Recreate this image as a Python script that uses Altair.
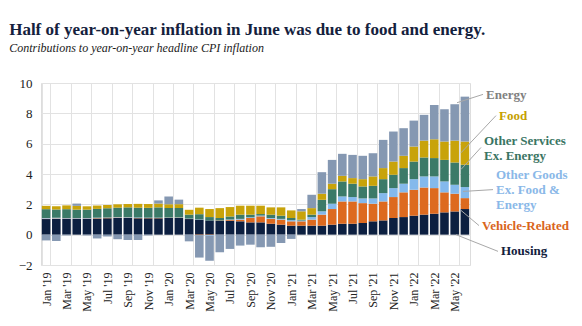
import altair as alt
import pandas as pd

# ---------------- data ----------------
months = [f"{m} '{y}" for y in ("19", "20", "21", "22")
          for m in ("Jan", "Feb", "Mar", "Apr", "May", "Jun",
                    "Jul", "Aug", "Sep", "Oct", "Nov", "Dec")][:42]

housing = [1.03, 1.04, 1.05, 1.05, 1.05, 1.06, 1.08, 1.10, 1.10, 1.08, 1.08, 1.08,
           1.10, 1.10, 1.03, 0.99, 0.94, 0.92, 0.92, 0.88, 0.81, 0.81, 0.72, 0.66,
           0.59, 0.59, 0.59, 0.59, 0.66, 0.72, 0.72, 0.77, 0.88, 0.94, 1.10, 1.16,
           1.25, 1.32, 1.38, 1.47, 1.53, 1.69]
vehicle = [0.03, 0.03, 0.02, 0.02, 0.02, 0.03, 0.03, 0.03, 0.02, 0.02, 0.02, 0.02,
           0.02, 0.02, 0.01, -0.03, -0.03, 0.02, 0.05, 0.11, 0.29, 0.40, 0.33, 0.33,
           0.29, 0.29, 0.40, 0.73, 1.03, 1.47, 1.47, 1.31, 1.16, 1.25, 1.38, 1.63,
           1.71, 1.79, 1.69, 1.32, 1.17, 0.72]
other_goods = [0.04, 0.04, 0.03, 0.03, 0.03, 0.03, 0.03, 0.03, 0.03, 0.03, 0.02, 0.02,
               0.02, 0.02, 0.02, 0.02, -0.05, 0.00, 0.03, 0.05, 0.05, 0.05, 0.05, 0.05,
               0.08, 0.05, 0.17, 0.22, 0.35, 0.33, 0.29, 0.31, 0.35, 0.55, 0.59, 0.57,
               0.70, 0.73, 0.77, 0.72, 0.59, 0.73]
other_services = [0.58, 0.55, 0.58, 0.55, 0.55, 0.58, 0.60, 0.62, 0.65, 0.65, 0.65, 0.68,
                  0.62, 0.62, 0.26, 0.34, 0.22, 0.16, 0.20, 0.28, 0.17, 0.10, 0.22, 0.21,
                  0.14, 0.06, 0.16, 0.76, 0.96, 0.99, 0.88, 0.79, 0.83, 0.92, 0.88, 1.03,
                  1.16, 1.25, 1.21, 1.42, 1.47, 1.47]
food = [0.22, 0.22, 0.25, 0.25, 0.22, 0.22, 0.22, 0.22, 0.22, 0.25, 0.25, 0.25,
        0.25, 0.25, 0.32, 0.43, 0.53, 0.65, 0.62, 0.59, 0.59, 0.55, 0.48, 0.55,
        0.50, 0.55, 0.43, 0.40, 0.36, 0.37, 0.37, 0.48, 0.62, 0.73, 0.87, 0.81,
        0.99, 1.11, 1.24, 1.21, 1.44, 1.53]
energy = [-0.38, -0.42, -0.05, 0.15, -0.05, -0.25, -0.12, -0.30, -0.35, -0.35, -0.05, 0.21,
          0.50, 0.30, -0.44, -1.48, -1.64, -1.16, -0.94, -0.72, -0.66, -0.83, -0.80, -0.55,
          -0.28, 0.15, 0.88, 1.42, 1.57, 1.45, 1.53, 1.54, 1.53, 1.86, 1.98, 1.82,
          1.71, 1.70, 2.26, 2.13, 2.40, 2.96]

series = ["Housing", "Vehicle-Related", "Other Goods Ex. Food & Energy",
          "Other Services Ex. Energy", "Food", "Energy"]
values = [housing, vehicle, other_goods, other_services, food, energy]
y_ticks = [-2, 0, 2, 4, 6, 8, 10]

# ---------------- styles ----------------
bar_colors = ["#0c1f40", "#dd6a1f", "#84b9ec", "#3b7a68", "#c8a30a", "#8598b2"]
label_colors = ["#13213d", "#d9651c", "#8ab8e8", "#3a7563", "#c5a000", "#808080"]
SERIF = "Liberation Serif"

rows = []
for k, (s, vals) in enumerate(zip(series, values)):
    for m, v in zip(months, vals):
        rows.append({"month": m, "series": s, "value": v, "order": k})
df = pd.DataFrame(rows)

grid_c = "#e2e2e2"

y_scale = alt.Scale(domain=[-2, 10], nice=False, zero=False)
y_axis = alt.Axis(values=y_ticks, ticks=False, domain=False, grid=True,
                  gridColor=grid_c, labelFont=SERIF, labelFontSize=13,
                  labelColor="#222222", labelPadding=9, labelOverlap=False,
                  labelFlush=False, title=None)

bars = alt.Chart(df).mark_bar().encode(
    x=alt.X("month:N", sort=months,
            scale=alt.Scale(paddingInner=0.16, paddingOuter=0.08),
            axis=alt.Axis(values=months[::2], labelAngle=270, tickBand="extent",
                          ticks=False, domain=False, grid=True, gridColor=grid_c,
                          labelFont=SERIF, labelFontSize=12, labelColor="#222222",
                          labelPadding=7, labelOverlap=False, title=None)),
    y=alt.Y("value:Q", stack="zero", scale=y_scale, axis=y_axis),
    color=alt.Color("series:N", scale=alt.Scale(domain=series, range=bar_colors),
                    legend=None),
    order=alt.Order("order:Q"),
)

# ---------------- annotations (labels + leader lines) ----------------
# x positions are pixels measured from the plot area's left edge
ann_lines = [  # (text, series index, x px, y data)
    ("Energy", 5, 445, 9.2),
    ("Food", 4, 458, 7.85),
    ("Other Services", 3, 443, 6.2),
    ("Ex. Energy", 3, 443, 5.2),
    ("Other Goods", 2, 455, 3.95),
    ("Ex. Food &", 2, 455, 2.97),
    ("Energy", 2, 455, 1.97),
    ("Vehicle-Related", 1, 441, 0.55),
    ("Housing", 0, 460, -1.1),
]
leaders = [  # (x0 px, y0 data, x1 px, y1 data)
    (416, 8.7, 442, 9.25),
    (420, 5.4, 455, 7.85),
    (420, 4.3, 440, 5.75),
    (422, 2.85, 452, 2.97),
    (420, 1.6, 438, 0.6),
    (415, 0.0, 457, -1.1),
]

one = pd.DataFrame({"d": [0]})
layers = [bars]
for x0, y0, x1, y1 in leaders:
    layers.append(
        alt.Chart(one).mark_rule(color="#a8a8a8", strokeWidth=1).encode(
            x=alt.value(x0), x2=alt.value(x1),
            y=alt.YDatum(y0, scale=y_scale, axis=y_axis), y2=alt.Y2Datum(y1))
    )
for text, si, xp, yv in ann_lines:
    layers.append(
        alt.Chart(one).mark_text(align="left", baseline="middle", font=SERIF,
                                 fontSize=13, fontWeight="bold",
                                 color=label_colors[si]).encode(
            x=alt.value(xp), y=alt.YDatum(yv, scale=y_scale, axis=y_axis),
            text=alt.value(text))
    )

chart = alt.layer(*layers).properties(
    width=429, height=182,
    padding={"left": 41, "top": 83, "right": 112, "bottom": 61},
    autosize=alt.AutoSizeParams(type="none"),
    title=alt.TitleParams(
        "Half of year-on-year  inflation in June was due to food and energy.",
        subtitle="Contributions to year-on-year headline CPI inflation",
        anchor="start", dx=-9, offset=22,
        font=SERIF, fontSize=17, fontWeight="bold", color="#14213d",
        subtitleFont=SERIF, subtitleFontStyle="italic", subtitleFontSize=12,
        subtitleColor="#1a1a1a", subtitlePadding=4),
).configure_view(stroke="#a0a0a0", strokeWidth=1.2).configure(
    background="white").configure_axisY(labelOverlap=False)

chart.save("out.html", embed_options={"renderer": "svg", "actions": False})
